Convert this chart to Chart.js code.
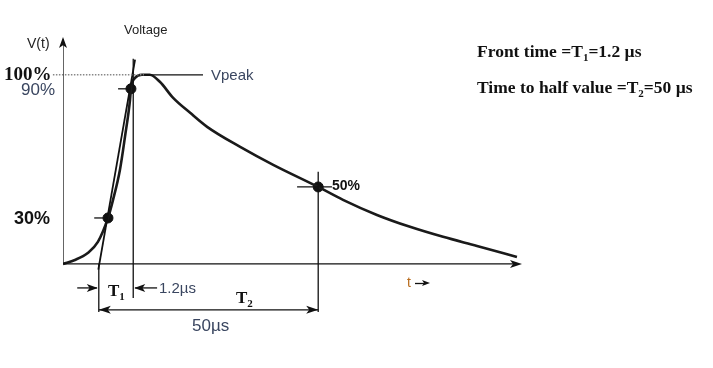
<!DOCTYPE html>
<html>
<head>
<meta charset="utf-8">
<script src="https://cdn.jsdelivr.net/npm/chart.js@4"></script>
<style>
    body { margin: 0; background: #fff; }
    #wrap { width: 713px; height: 368px; }
</style>
</head>
<body>
<div id="wrap"><canvas id="impulseChart" width="713" height="368"></canvas></div>
<script>
// Impulse waveform (time in arbitrary units, voltage in % of peak)
const waveTime = [0, 2.6, 5.4, 7.6, 9.8, 10.9, 12.4, 13.5, 14.6, 14.8, 15.7, 17.2, 18.9, 21.1, 24.0, 27.7, 31.4, 38.6, 45.8, 55.6, 61.0, 68.4, 75.6, 82.8, 90.2, 98.9];
const waveVolt = [0, 2.1, 5.8, 11.6, 24.3, 33.9, 49.7, 67.2, 86.8, 92.6, 98.4, 100, 100, 96.3, 87.8, 79.9, 72.5, 61.9, 52.4, 40.7, 33.9, 25.9, 19.6, 14.3, 9.5, 3.7];

// Marked points on the curve
const markerLabels = ['30%', '90%', '50%'];
const markerTime = [9.8, 14.8, 55.6];
const markerVolt = [24.3, 92.6, 40.7];

// Front tangent through the 30% and 90% points
const tangentTime = [7.7, 15.7];
const tangentVolt = [-3, 108];

// Time marks
const frontStart = 7.8;   // virtual origin
const frontEnd = 15.3;    // T1 = 1.2 us
const halfTime = 55.6;    // T2 = 50 us
const peakVolt = 100;

function seg(x1, y1, x2, y2) {
    return [{ x: x1, y: y1 }, { x: x2, y: y2 }];
}

function lineSet(data, extra) {
    return Object.assign({
        data: data,
        showLine: true,
        borderColor: '#111',
        borderWidth: 1.3,
        pointRadius: 0,
        fill: false
    }, extra || {});
}

const datasets = [
    // axes
    lineSet(seg(0, 0, 0, 119), { borderWidth: 1.3 }),
    lineSet(seg(0, 0, 99, 0), { borderWidth: 1.3 }),
    // dotted 100% line and Vpeak leader
    lineSet(seg(-2.2, peakVolt, 17.6, peakVolt), { borderColor: '#888', borderDash: [1.5, 1.5], borderWidth: 1.5, clip: false }),
    lineSet(seg(17.6, peakVolt, 30.5, peakVolt)),
    // vertical marks
    lineSet(seg(frontEnd, 108.5, frontEnd, -18)),
    lineSet(seg(frontStart, 0, frontStart, -25.4)),
    lineSet(seg(halfTime, 48.7, halfTime, -25.4)),
    // 50us dimension line
    lineSet(seg(frontStart, -24.3, halfTime, -24.3)),
    // T1 arrows shafts
    lineSet(seg(3.1, -12.7, 7.4, -12.7)),
    lineSet(seg(15.7, -12.7, 20.5, -12.7)),
    // horizontal ticks through markers
    lineSet(seg(6.8, markerVolt[0], markerTime[0], markerVolt[0])),
    lineSet(seg(12.0, markerVolt[1], markerTime[1], markerVolt[1])),
    lineSet(seg(51.0, markerVolt[2], 58.6, markerVolt[2])),
    // front tangent
    lineSet(tangentTime.map((t, i) => ({ x: t, y: tangentVolt[i] })), { borderWidth: 1.8 }),
    // waveform
    lineSet(waveTime.map((t, i) => ({ x: t, y: waveVolt[i] })), {
        borderWidth: 2.6,
        borderColor: '#1a1a1a',
        cubicInterpolationMode: 'monotone'
    }),
    // marker dots
    {
        data: markerTime.map((t, i) => ({ x: t, y: markerVolt[i] })),
        showLine: false,
        pointRadius: 5,
        pointBackgroundColor: '#111',
        pointBorderColor: '#111'
    }
];

function arrowHead(ctx, x, y, angle, len, half) {
    ctx.save();
    ctx.translate(x, y);
    ctx.rotate(angle);
    ctx.beginPath();
    ctx.moveTo(0, 0);
    ctx.lineTo(-len, -half);
    ctx.lineTo(-len * 0.75, 0);
    ctx.lineTo(-len, half);
    ctx.closePath();
    ctx.fillStyle = '#111';
    ctx.fill();
    ctx.restore();
}

// draw text made of parts, some of which are subscripts
function richText(ctx, parts, x, y, size, family, weight, color) {
    ctx.fillStyle = color;
    ctx.textBaseline = 'alphabetic';
    ctx.textAlign = 'left';
    parts.forEach(p => {
        const sub = p[1];
        const s = sub ? Math.round(size * 0.62) : size;
        ctx.font = weight + ' ' + s + 'px ' + family;
        ctx.fillText(p[0], x, sub ? y + size * 0.22 : y);
        x += ctx.measureText(p[0]).width;
    });
}

const annotations = {
    id: 'annotations',
    afterDraw(chart) {
        const ctx = chart.ctx;
        const xs = chart.scales.x, ys = chart.scales.y;
        const px = v => xs.getPixelForValue(v), py = v => ys.getPixelForValue(v);
        const sans = '"Liberation Sans", Arial, sans-serif';
        const serif = '"Liberation Serif", "Times New Roman", serif';
        const blue = '#3a4660';

        // arrowheads
        arrowHead(ctx, px(0), py(120), -Math.PI / 2, 11, 4);
        arrowHead(ctx, px(100), py(0), 0, 12, 4);
        arrowHead(ctx, px(frontStart), py(-24.3), Math.PI, 12, 4);
        arrowHead(ctx, px(halfTime), py(-24.3), 0, 12, 4);
        arrowHead(ctx, px(frontStart) - 1, py(-12.7), 0, 11, 4);
        arrowHead(ctx, px(frontEnd) + 1, py(-12.7), Math.PI, 11, 4);

        ctx.save();
        ctx.textBaseline = 'middle';
        ctx.textAlign = 'left';

        ctx.font = '13px ' + sans;
        ctx.fillStyle = '#222';
        ctx.fillText('Voltage', 124, 30);
        ctx.font = '14px ' + sans;
        ctx.fillText('V(t)', 27, 44);

        ctx.font = 'bold 19px ' + serif;
        ctx.fillStyle = '#111';
        ctx.fillText('100%', 4, 75);
        ctx.font = '17px ' + sans;
        ctx.fillStyle = blue;
        ctx.fillText(markerLabels[1], 21, 90);
        ctx.font = 'bold 18px ' + sans;
        ctx.fillStyle = '#111';
        ctx.fillText(markerLabels[0], 14, 219);

        ctx.font = '15px ' + sans;
        ctx.fillStyle = blue;
        ctx.fillText('Vpeak', 211, 76);

        ctx.font = 'bold 14px ' + sans;
        ctx.fillStyle = '#111';
        ctx.fillText(markerLabels[2], 332, 186);

        ctx.font = '15px ' + sans;
        ctx.fillStyle = blue;
        ctx.fillText('1.2\u00b5s', 159, 289);
        ctx.font = '17px ' + sans;
        ctx.fillText('50\u00b5s', 192, 326);

        ctx.font = '14px ' + sans;
        ctx.fillStyle = '#b86a1a';
        ctx.fillText('t', 407, 283);
        ctx.restore();
        arrowHead(ctx, 430, 283, 0, 8, 3);
        ctx.save();
        ctx.strokeStyle = '#111';
        ctx.lineWidth = 1.3;
        ctx.beginPath();
        ctx.moveTo(415, 283.5);
        ctx.lineTo(426, 283.5);
        ctx.stroke();
        ctx.restore();

        richText(ctx, [['T', false], ['1', true]], 108, 296, 17, serif, 'bold', '#111');
        richText(ctx, [['T', false], ['2', true]], 236, 303, 17, serif, 'bold', '#111');

        richText(ctx, [['Front time =T', false], ['1', true], ['=1.2 \u00b5s', false]], 477, 57, 17.5, serif, 'bold', '#111');
        richText(ctx, [['Time to half value =T', false], ['2', true], ['=50 \u00b5s', false]], 477, 93, 17.5, serif, 'bold', '#111');
    }
};

new Chart(document.getElementById('impulseChart').getContext('2d'), {
    type: 'scatter',
    data: { datasets: datasets },
    options: {
        responsive: false,
        animation: false,
        layout: { padding: { left: 63, right: 191, top: 37, bottom: 19 } },
        plugins: { legend: { display: false }, tooltip: { enabled: false } },
        scales: {
            x: { type: 'linear', min: 0, max: 100, display: false },
            y: { type: 'linear', min: -45, max: 120, display: false }
        }
    },
    plugins: [annotations]
});
</script>
</body>
</html>
